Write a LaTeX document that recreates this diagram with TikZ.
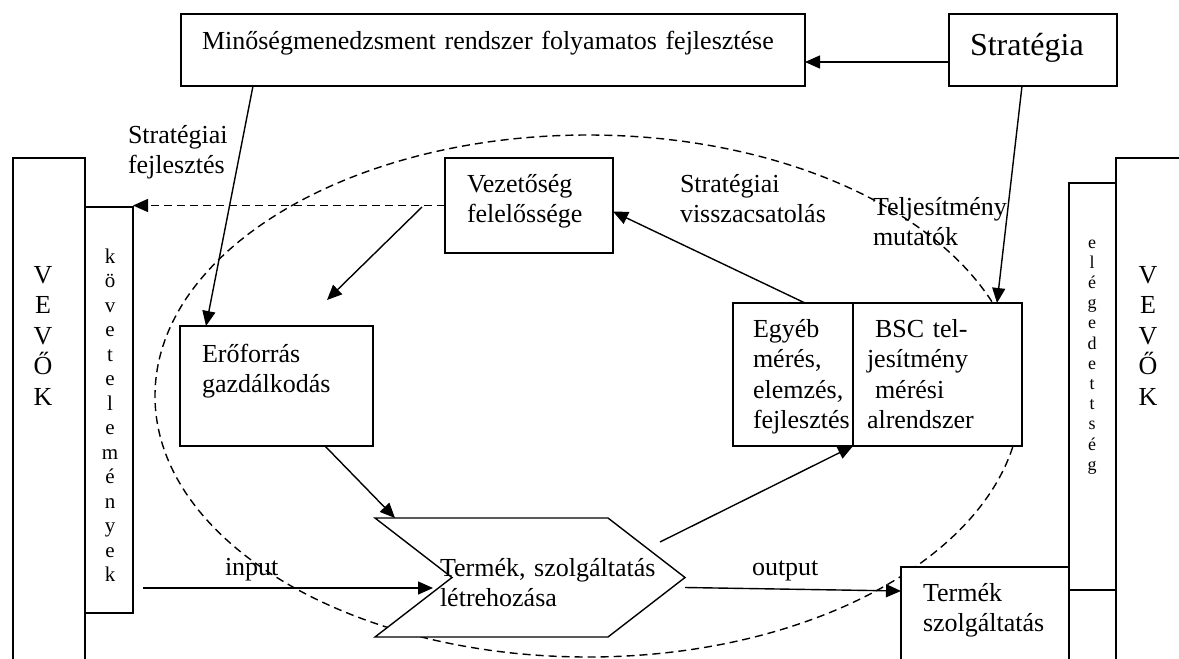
\documentclass[tikz,border=0pt]{standalone}
\usepackage{fontspec}
\setmainfont{Liberation Serif}
\usetikzlibrary{arrows.meta,calc}

\tikzset{
  frame/.style={draw, line width=1.4pt, fill=white, rectangle, inner sep=0pt,
    outer sep=0pt, anchor=north west},
  edge/.style={line width=1.4pt, line join=miter},
  arr/.style={line width=1.4pt, -{Triangle[length=15pt,width=13pt]}},
  loopdash/.style={line width=1.4pt, dash pattern=on 8pt off 5pt},
  txt/.style={inner sep=0pt, outer sep=0pt, anchor=base west, align=left,
    text width=#1, font=\fontsize{26}{30.5}\selectfont},
  txt/.default=300pt,
  vtxt/.style={inner sep=0pt, outer sep=0pt, anchor=base, align=center,
    text width=30pt, font=\fontsize{26}{30.5}\selectfont},
}

\begin{document}
\begin{tikzpicture}[x=1pt,y=-1pt]
\useasboundingbox (0,0) rectangle (1179,659);
\clip (0,0) rectangle (1179,659);

% the dashed loop of the process
\draw[loopdash] (588,396) ellipse [x radius=433, y radius=261];

% boxes
\node[frame, minimum width=624pt, minimum height=72pt] (minoseg) at (181,14) {};
\node[frame, minimum width=168pt, minimum height=72pt] (strategia) at (949,14) {};
\node[frame, minimum width=72pt, minimum height=560pt] (vevokL) at (13,158) {};
\node[frame, minimum width=48pt, minimum height=406pt] (kovetel) at (85,207) {};
\node[frame, minimum width=168pt, minimum height=95pt] (vezetoseg) at (445,158) {};
\node[frame, minimum width=193pt, minimum height=120pt] (eroforras) at (180,326) {};
\node[frame, minimum width=120pt, minimum height=143pt] (egyeb) at (733,303) {};
\node[frame, minimum width=169pt, minimum height=143pt] (bsc) at (853,303) {};
\node[frame, minimum width=100pt, minimum height=560pt] (vevokR) at (1116,158) {};
\node[frame, minimum width=47pt, minimum height=407pt] (eleged) at (1069,183) {};
\node[frame, minimum width=168pt, minimum height=120pt] (termekki) at (901,567) {};

% chevron of production
\node[inner sep=0pt, outer sep=0pt, minimum width=310pt, minimum height=119pt,
  anchor=north west] (termek) at (375,518) {};
\draw[edge, fill=white] (termek.north west) -- ([xshift=-77pt]termek.north east)
  -- (termek.east) -- ([xshift=-77pt]termek.south east) -- (termek.south west)
  -- ([xshift=77pt]termek.west) -- cycle;

% texts
\node[txt=620pt] (minosegT) at (202,49) {Minőségmenedzsment rendszer folyamatos fejlesztése};
\node[txt, font=\fontsize{32}{36}\selectfont] (strategiaT) at (970,55) {Stratégia};
\node[txt] (vezetosegT) at (467,192) {Vezetőség\\felelőssége};
\node[txt] (eroforrasT) at (202,362) {Erőforrás\\gazdálkodás};
\node[txt] (egyebT) at (753,337) {Egyéb\\mérés,\\elemzés,\\fejlesztés};
\node[txt] (bscT) at (867,337) {\hspace*{8pt}BSC tel-\\jesítmény\\\hspace*{8pt}mérési\\alrendszer};
\node[txt] (termekT) at (440,576) {Termék, szolgáltatás\\létrehozása};
\node[txt] (termekkiT) at (923,601) {Termék\\szolgáltatás};
\node[txt] (stratfejl) at (128,143) {Stratégiai\\fejlesztés};
\node[txt] (stratvissza) at (680,192) {Stratégiai\\visszacsatolás};
\node[txt] (teljmut) at (873,215) {Teljesítmény\\mutatók};
\node[txt] (inputT) at (225,575) {input};
\node[txt] (outputT) at (752,575) {output};

\node[vtxt] (vevokLT) at (43,283) {V\\E\\V\\Ő\\K};
\node[vtxt] (vevokRT) at (1148,283) {V\\E\\V\\Ő\\K};
\node[vtxt, font=\fontsize{21}{24.5}\selectfont] (kovetelT) at (110,263)
  {k\\ö\\v\\e\\t\\e\\l\\e\\m\\é\\n\\y\\e\\k};
\node[vtxt, font=\fontsize{18}{20.2}\selectfont] (elegedT) at (1092,248)
  {e\\l\\é\\g\\e\\d\\e\\t\\t\\s\\é\\g};

% free ends of connectors
\coordinate (vzOut) at (422,207);
\coordinate (efIn) at (327,300);
\coordinate (inStart) at (143,588);
\coordinate (inEnd) at (433,588);
\coordinate (tkOut) at (660,542);

% connectors
\draw[arr] ([yshift=-12pt]strategia.west) -- ([yshift=-12pt]minoseg.east);
\draw[arr] ([xshift=72pt]minoseg.south west) -- ([xshift=26pt]eroforras.north west);
\draw[arr] ([xshift=73pt]strategia.south west) -- ([xshift=144pt]bsc.north west);
\draw[arr, loopdash] (vezetoseg.west) -- (vezetoseg.west -| kovetel.east);
\draw[arr] (vzOut) -- (efIn);
\draw[arr] ([xshift=145pt]eroforras.south west) -- ([xshift=20pt]termek.north west);
\draw[arr] (tkOut) -- (egyeb.south east);
\draw[arr] ([xshift=72pt]egyeb.north west) -- ([yshift=-6pt]vezetoseg.east);
\draw[arr] (inStart) -- (inEnd);
\draw[arr] ([yshift=-10pt]termek.east) -- ([yshift=-24pt]termekki.north west);
\end{tikzpicture}
\end{document}
